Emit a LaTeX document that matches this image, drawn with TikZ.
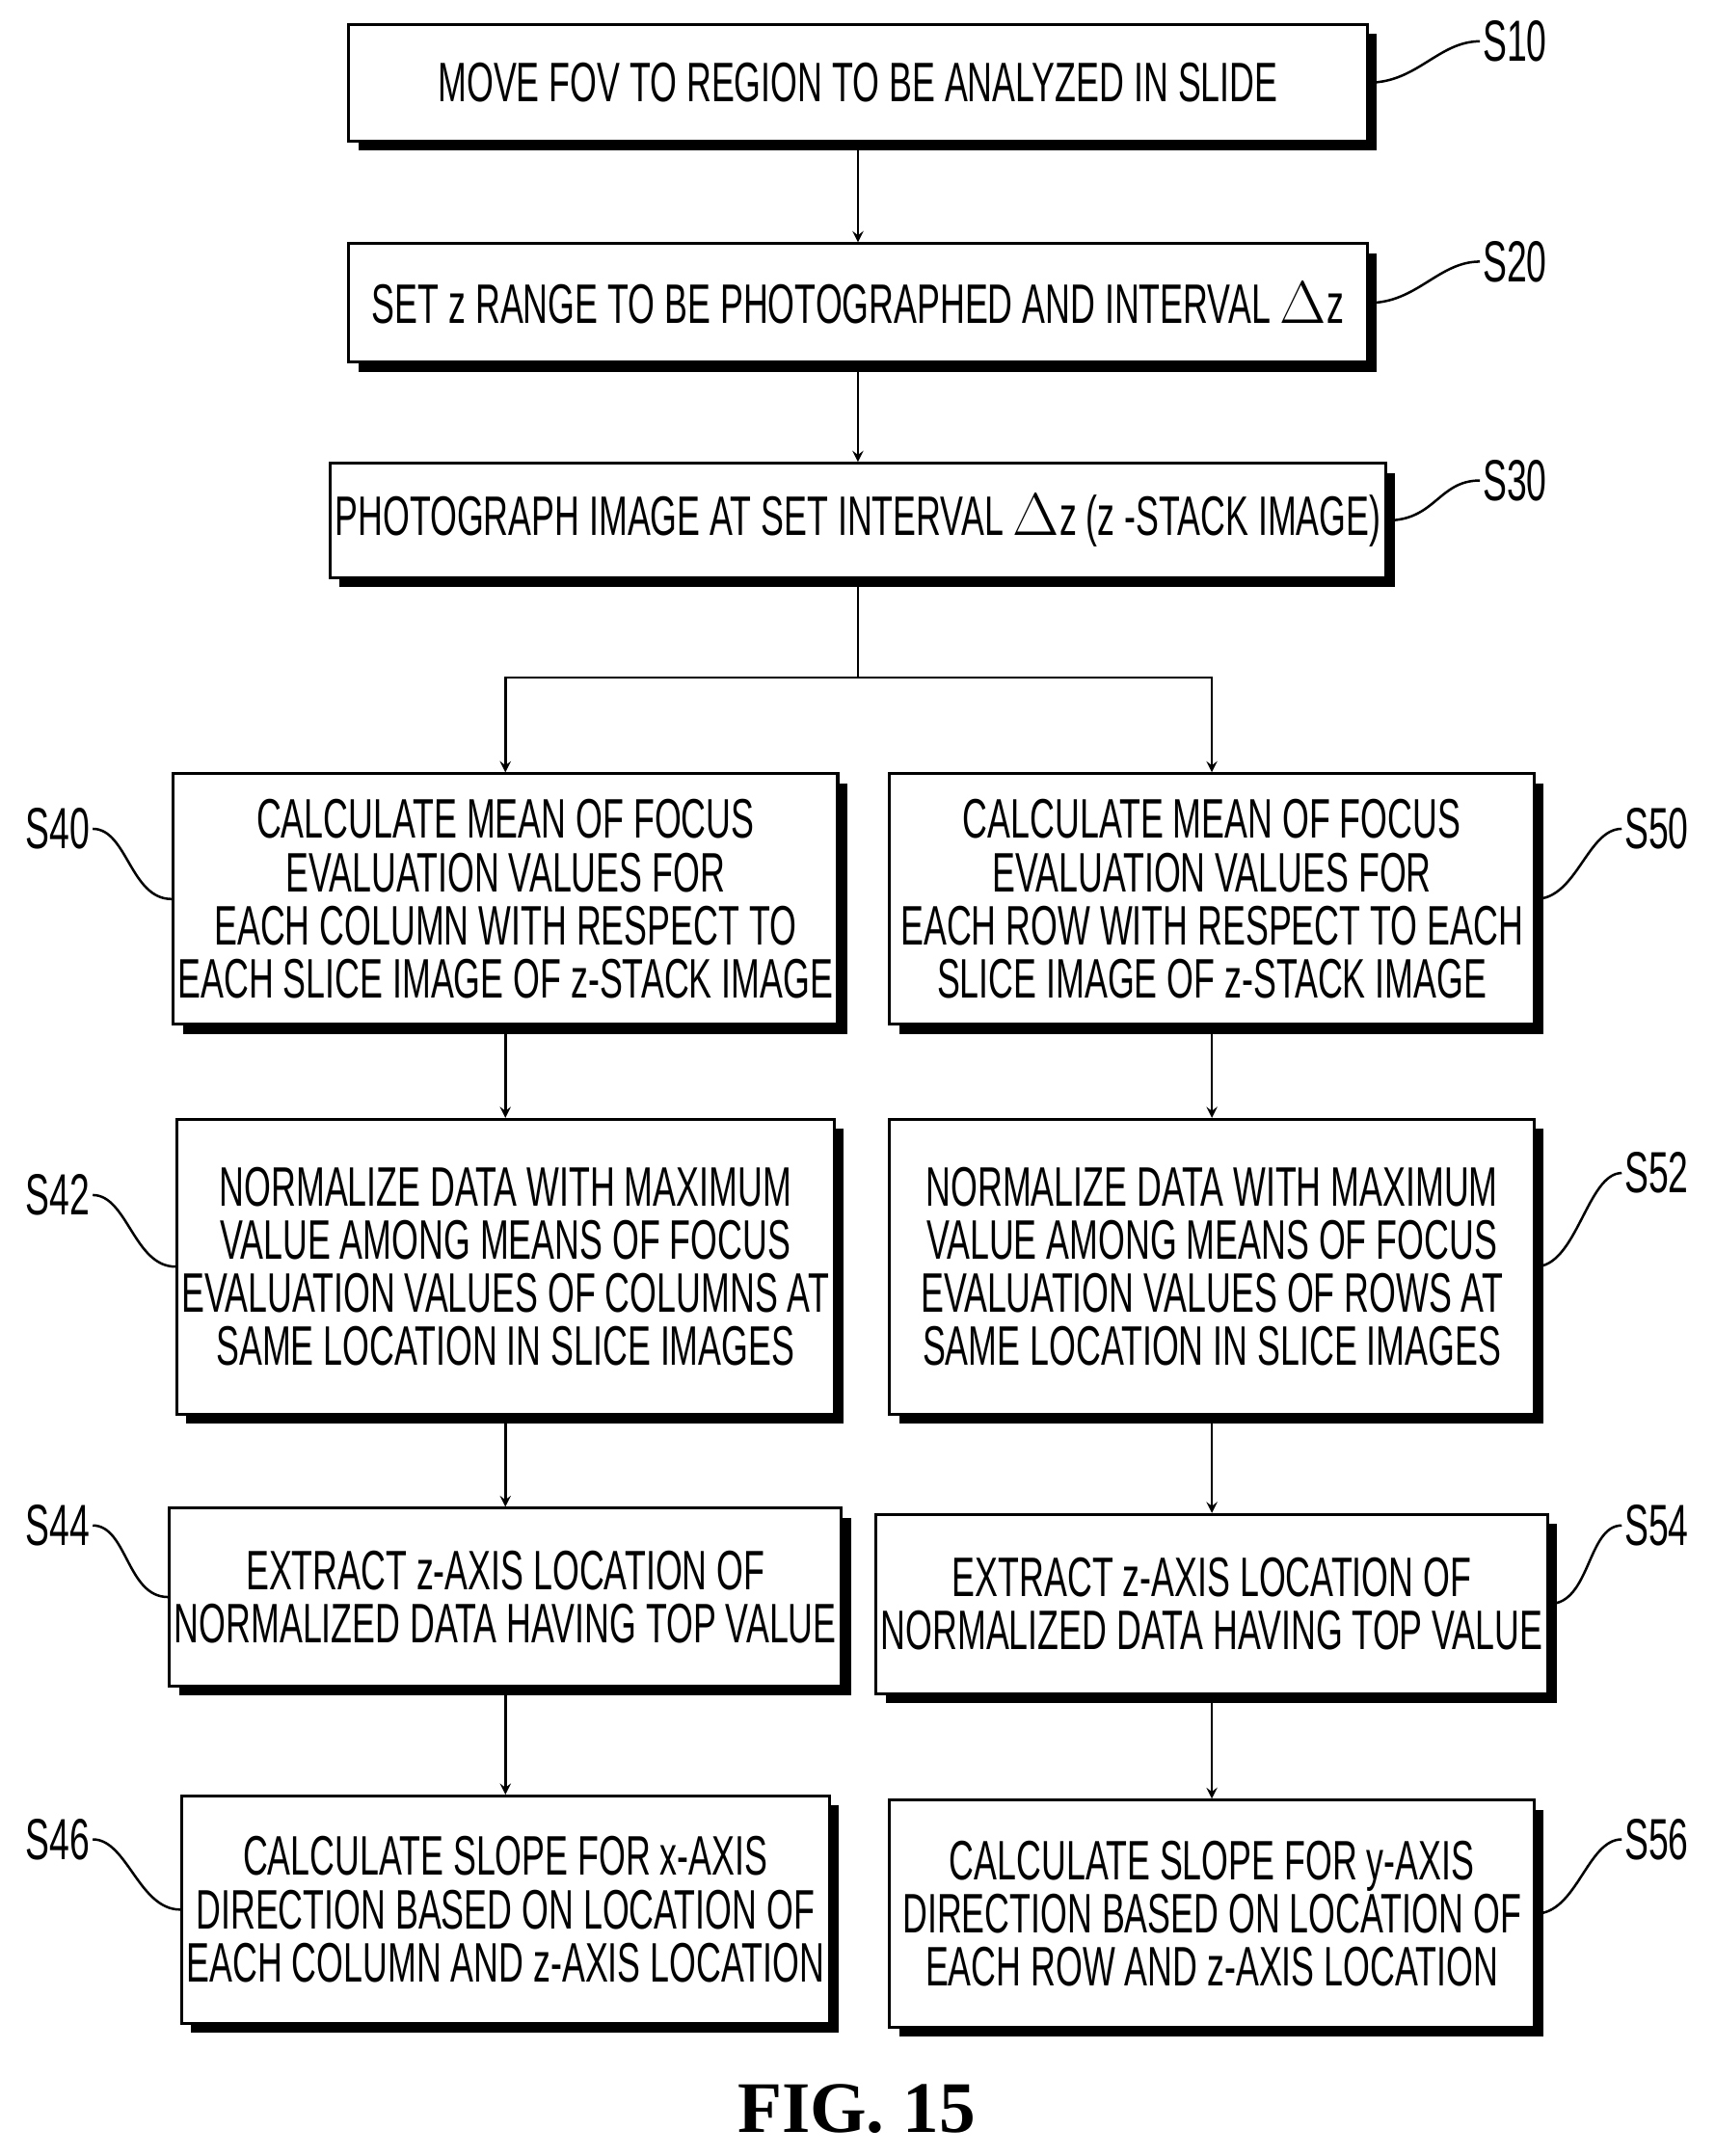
\documentclass[tikz,border=0pt]{standalone}
\usepackage{fontspec}
\setmainfont{Liberation Sans}[FakeStretch=0.62]
\newfontfamily\figfont{Liberation Serif}
\usetikzlibrary{shadows,positioning}
\tikzset{
 >=stealth,
 stepbox/.style={draw,fill=white,line width=1.2pt,align=center,inner sep=2pt,
   font=\fontsize{23}{22}\selectfont,
   drop shadow={shadow xshift=1.4mm,shadow yshift=-1.4mm,fill=black,opacity=1}},
 lab/.style={font=\fontsize{24}{24}\selectfont,inner sep=1pt},
 wire/.style={line width=1pt}
}
\begin{document}
\begin{tikzpicture}[x=0.02cm,y=-0.02cm]
\useasboundingbox (0,0) rectangle (1245,1566);
% top steps
\node[stepbox,minimum width=14.8cm,minimum height=1.7cm] (s10) at (623,60) {MOVE FOV TO REGION TO BE ANALYZED IN SLIDE};
\node[stepbox,minimum width=14.8cm,minimum height=1.72cm] (s20) at (623,220) {SET z RANGE TO BE PHOTOGRAPHED AND INTERVAL $\Delta$z};
\node[stepbox,minimum width=14.8cm,minimum height=1.66cm] (s30) at (623,378) {PHOTOGRAPH IMAGE AT SET INTERVAL $\Delta$z (z -STACK IMAGE)};
% left column
\node[stepbox,minimum width=9.36cm,minimum height=3.64cm] (s40) at (367,653) {CALCULATE MEAN OF FOCUS\\EVALUATION VALUES FOR\\EACH COLUMN WITH RESPECT TO\\EACH SLICE IMAGE OF z-STACK IMAGE};
\node[stepbox,minimum width=9.36cm,minimum height=4.28cm] (s42) at (367,920) {NORMALIZE DATA WITH MAXIMUM\\VALUE AMONG MEANS OF FOCUS\\EVALUATION VALUES OF COLUMNS AT\\SAME LOCATION IN SLICE IMAGES};
\node[stepbox,minimum width=9.36cm,minimum height=2.58cm] (s44) at (367,1160) {EXTRACT z-AXIS LOCATION OF\\NORMALIZED DATA HAVING TOP VALUE};
\node[stepbox,minimum width=9.36cm,minimum height=3.3cm] (s46) at (367,1387) {CALCULATE SLOPE FOR x-AXIS\\DIRECTION BASED ON LOCATION OF\\EACH COLUMN AND z-AXIS LOCATION};
% right column
\node[stepbox,minimum width=9.36cm,minimum height=3.64cm] (s50) at (880,653) {CALCULATE MEAN OF FOCUS\\EVALUATION VALUES FOR\\EACH ROW WITH RESPECT TO EACH\\SLICE IMAGE OF z-STACK IMAGE};
\node[stepbox,minimum width=9.36cm,minimum height=4.28cm] (s52) at (880,920) {NORMALIZE DATA WITH MAXIMUM\\VALUE AMONG MEANS OF FOCUS\\EVALUATION VALUES OF ROWS AT\\SAME LOCATION IN SLICE IMAGES};
\node[stepbox,minimum width=9.36cm,minimum height=2.6cm] (s54) at (880,1165) {EXTRACT z-AXIS LOCATION OF\\NORMALIZED DATA HAVING TOP VALUE};
\node[stepbox,minimum width=9.36cm,minimum height=3.3cm] (s56) at (880,1390) {CALCULATE SLOPE FOR y-AXIS\\DIRECTION BASED ON LOCATION OF\\EACH ROW AND z-AXIS LOCATION};
% arrows
\draw[wire,->] (s10) -- (s20);
\draw[wire,->] (s20) -- (s30);
\coordinate (fork) at (623,492);
\draw[wire] (s30.south) -- (fork);
\draw[wire,->] (fork) -| (s40.north);
\draw[wire,->] (fork) -| (s50.north);
\foreach \a/\b in {s40/s42,s42/s44,s44/s46,s50/s52,s52/s54,s54/s56}
  \draw[wire,->] (\a) -- (\b);
% step labels, right
\foreach \n/\y in {10/30,20/190,30/349}
 {\node[lab] (l\n) at (1100,\y) {S\n};
  \draw[wire] (s\n.east) .. controls +(35,0) and +(-30,0) .. (l\n.west);}
\foreach \n/\y in {50/602,52/852,54/1108,56/1336}
 {\node[lab] (l\n) at (1203,\y) {S\n};
  \draw[wire] (s\n.east) .. controls +(30,0) and +(-25,0) .. (l\n.west);}
% step labels, left
\foreach \n/\y in {40/602,42/868,44/1108,46/1336}
 {\node[lab] (l\n) at (42,\y) {S\n};
  \draw[wire] (s\n.west) .. controls +(-30,0) and +(25,0) .. (l\n.east);}
\node[font=\figfont\bfseries\fontsize{30}{30}\selectfont] (fig) at (622,1532) {FIG. 15};
\end{tikzpicture}
\end{document}
